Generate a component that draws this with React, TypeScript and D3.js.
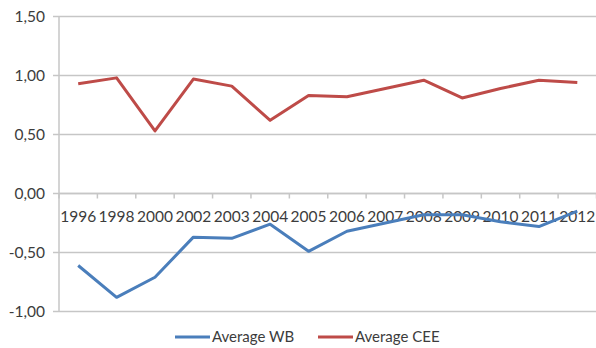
import React from "react";
import * as d3 from "d3";

const years = ["1996", "1998", "2000", "2002", "2003", "2004", "2005", "2006", "2007", "2008", "2009", "2010", "2011", "2012"];
const averageWB = [-0.61, -0.88, -0.71, -0.37, -0.38, -0.26, -0.49, -0.32, -0.25, -0.18, -0.18, -0.24, -0.28, -0.15];
const averageCEE = [0.93, 0.98, 0.53, 0.97, 0.91, 0.62, 0.83, 0.82, 0.89, 0.96, 0.81, 0.89, 0.96, 0.94];
const yTicks = [-1, -0.5, 0, 0.5, 1, 1.5];

const W = 596;
const H = 348;
const left = 59;
const right = 596.5;
const top = 16.5;
const bottom = 311.5;

const BLUE = "#4a7ebb";
const RED = "#be4b48";
const GRID = "#c6c6c6";
const TEXT = "#3c3c3c";
const FONT = "Lato, 'Open Sans', sans-serif";

export default function App() {
  const x = d3.scaleBand<string>().domain(years).range([left, right]).padding(0);
  const y = d3.scaleLinear().domain([-1, 1.5]).range([bottom, top]);
  const cx = (c: string) => (x(c) as number) + x.bandwidth() / 2;

  const line = d3
    .line<number>()
    .x((_, i) => cx(years[i]))
    .y((v) => y(v));

  const fmt = (v: number) => v.toFixed(2).replace(".", ",");
  const boundaries = years.map((c) => x(c) as number).concat([right]);

  return (
    <svg width={W} height={H} style={{ position: "absolute", left: 0, top: 0, background: "#fff" }} fontFamily={FONT}>
      {/* horizontal gridlines and value labels */}
      {yTicks.map((t) => (
        <g key={t}>
          <line x1={left - 6} x2={right} y1={y(t)} y2={y(t)} stroke={GRID} strokeWidth={1.5} />
          <text x={45} y={y(t)} dy="0.35em" textAnchor="end" fontSize={15.5} fill={TEXT}>
            {fmt(t)}
          </text>
        </g>
      ))}
      {/* value axis */}
      <line x1={left} x2={left} y1={top} y2={bottom} stroke={GRID} strokeWidth={1.5} />
      {/* category axis on zero line */}
      <line x1={left} x2={right} y1={y(0)} y2={y(0)} stroke={GRID} strokeWidth={1.5} />
      {boundaries.map((b, i) => (
        <line key={i} x1={b} x2={b} y1={y(0)} y2={y(0) + 5} stroke={GRID} strokeWidth={1.5} />
      ))}
      {years.map((c) => (
        <text key={c} x={cx(c)} y={y(0) + 28.5} textAnchor="middle" fontSize={15.5} fill={TEXT}>
          {c}
        </text>
      ))}
      {/* series */}
      <path d={line(averageCEE) ?? ""} fill="none" stroke={RED} strokeWidth={3} strokeLinejoin="round" />
      <path d={line(averageWB) ?? ""} fill="none" stroke={BLUE} strokeWidth={3} strokeLinejoin="round" />
      {/* legend */}
      <g>
        <line x1={175} x2={210} y1={337} y2={337} stroke={BLUE} strokeWidth={3} />
        <text x={212} y={337} dy="0.35em" fontSize={15} fill={TEXT}>Average WB</text>
        <line x1={318} x2={353} y1={337} y2={337} stroke={RED} strokeWidth={3} />
        <text x={355} y={337} dy="0.35em" fontSize={15} fill={TEXT}>Average CEE</text>
      </g>
    </svg>
  );
}
